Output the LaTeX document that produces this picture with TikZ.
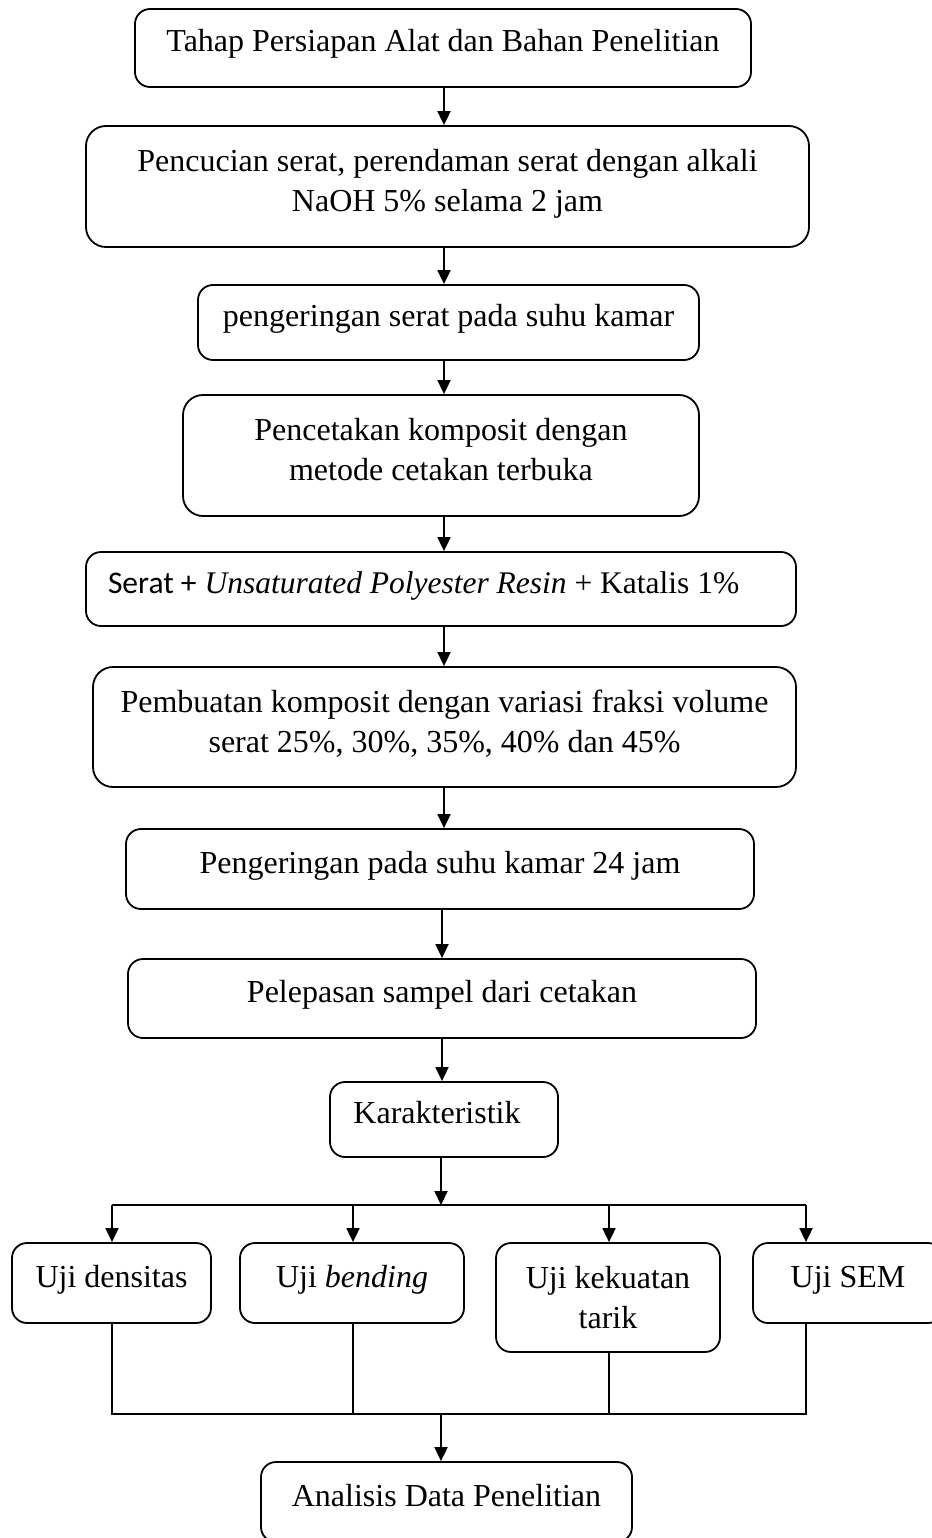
\documentclass[tikz,border=0pt]{standalone}
\usepackage{fontspec}
\setmainfont{Liberation Serif}
\newfontfamily\calibrifont{Carlito}
\usetikzlibrary{arrows.meta}
\begin{document}
\begin{tikzpicture}[x=1pt,y=-1pt,
  font=\fontsize{32}{40}\selectfont,
  box/.style={draw=black, line width=1.8pt, rounded corners=15pt, inner sep=0pt, align=center},
  bigbox/.style={box, rounded corners=20pt},
  one/.style={text height=22pt, text depth=14pt},
  arr/.style={line width=1.8pt, -{Triangle[length=14pt,width=13pt]}},
  bar/.style={line width=1.8pt},
  ln/.style={line width=1.4pt}]
\useasboundingbox (0,0) rectangle (931,1538);

% main chain
\node[box,one,minimum width=616pt,minimum height=78pt] (b1) at (443,48) {Tahap Persiapan Alat dan Bahan Penelitian};
\node[bigbox,minimum width=723pt,minimum height=121pt] (b2) at (447.5,186.5) {Pencucian serat, perendaman serat dengan alkali\\NaOH 5\% selama 2 jam\strut};
\node[box,one,minimum width=501pt,minimum height=75pt] (b3) at (448.5,322.5) {pengeringan serat pada suhu kamar};
\node[bigbox,minimum width=516pt,minimum height=121pt] (b4) at (441,455.5) {Pencetakan komposit dengan\\metode cetakan terbuka\strut};
\node[box,one,minimum width=710pt,minimum height=74pt] (b5) at (441,589) {\makebox[666pt][l]{\fontsize{31.5}{40}\selectfont{\calibrifont Serat +} \textit{Unsaturated Polyester Resin} + Katalis 1\%}};
\node[bigbox,minimum width=703pt,minimum height=120pt] (b6) at (444.5,727) {Pembuatan komposit dengan variasi fraksi volume\\serat 25\%, 30\%, 35\%, 40\% dan 45\%\strut};
\node[box,one,minimum width=628pt,minimum height=80pt] (b7) at (440,869) {Pengeringan pada suhu kamar 24 jam};
\node[box,one,minimum width=628pt,minimum height=79pt] (b8) at (442,998.5) {Pelepasan sampel dari cetakan};
\node[box,one,minimum width=228pt,minimum height=75pt] (b9) at (444,1119.5) {\makebox[200pt]{Karakteristik\hspace{14pt}}};

% tests
\node[box,one,minimum width=199pt,minimum height=80pt] (u1) at (111.5,1283) {Uji densitas};
\node[box,one,minimum width=224pt,minimum height=80pt] (u2) at (352,1283) {Uji \textit{bending}};
\node[box,minimum width=224pt,minimum height=109pt] (u3) at (608,1297.5) {Uji kekuatan\\tarik};
\node[box,one,minimum width=190pt,minimum height=80pt] (u4) at (848,1283) {Uji SEM};

\node[box,one,minimum width=371pt,minimum height=80pt] (an) at (446.5,1502) {Analisis Data Penelitian};

% spine coordinates
\coordinate (sp) at (444,0);
\coordinate (sq) at (442,0);
\draw[arr] (b1.south -| sp) -- (b2.north -| sp);
\draw[arr] (b2.south -| sp) -- (b3.north -| sp);
\draw[arr] (b3.south -| sp) -- (b4.north -| sp);
\draw[arr] (b4.south -| sp) -- (b5.north -| sp);
\draw[arr] (b5.south -| sp) -- (b6.north -| sp);
\draw[arr] (b6.south -| sp) -- (b7.north -| sp);
\draw[arr] (b7.south -| sq) -- (b8.north -| sq);
\draw[arr] (b8.south -| sq) -- (b9.north -| sq);

% distribution bar
\coordinate (tl) at (112,1205);
\coordinate (tr) at (806,1205);
\coordinate (jt) at (441,1205);
\coordinate (t2) at (353,1205);
\coordinate (t3) at (609,1205);
\draw[arr] (b9.south -| jt) -- (jt);
\draw[bar] (tl) -- (tr);
\draw[arr] (tl) -- (tl |- u1.north);
\draw[arr] (t2) -- (t2 |- u2.north);
\draw[arr] (t3) -- (t3 |- u3.north);
\draw[arr] (tr) -- (tr |- u4.north);

% collection bar
\coordinate (bl) at (112,1414);
\coordinate (br) at (806,1414);
\coordinate (jb) at (441,1414);
\draw[ln] (bl |- u1.south) -- (bl) -- (br) -- (br |- u4.south);
\draw[ln] (u2.south -| t2) -- (t2 |- bl);
\draw[ln] (u3.south -| t3) -- (t3 |- bl);
\draw[arr] (jb) -- (an.north -| jb);
\end{tikzpicture}
\end{document}
